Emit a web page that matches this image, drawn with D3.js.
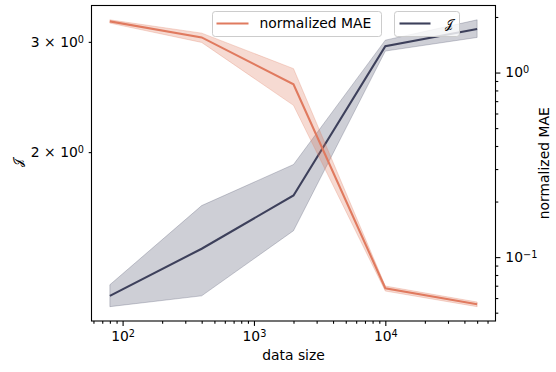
<!DOCTYPE html>
<html>
<head>
<meta charset="utf-8">
<script src="https://cdn.jsdelivr.net/npm/d3@7"></script>
<style>
    body { margin: 0; background: #fff; }
    svg text { font-family: "DejaVu Sans", sans-serif; fill: #000; }
</style>
</head>
<body>
<div id="chart"></div>
<script>
(function(){

    // data (band = lower / upper edge of the shaded area)
    var sizes = [80, 400, 2000, 10000, 50000];

    var jMean = [1.179, 1.402, 1.705, 2.953, 3.145];
    var jLow  = [1.133, 1.179, 1.498, 2.900, 3.049];
    var jHigh = [1.228, 1.643, 1.911, 3.019, 3.253];

    var maeMean = [1.893, 1.550, 0.864, 0.0678, 0.0555];
    var maeLow  = [1.853, 1.456, 0.664, 0.0655, 0.0539];
    var maeHigh = [1.930, 1.635, 1.050, 0.0697, 0.0571];

    // ticks
    var xMajorTicks = [100, 1000, 10000];
    var xMinorTicks = [60, 70, 80, 90, 200, 300, 400, 500, 600, 700, 800, 900,
                       2000, 3000, 4000, 5000, 6000, 7000, 8000, 9000,
                       20000, 30000, 40000, 50000, 60000];
    var jTicks = [2, 3];
    var maeMajorTicks = [0.1, 1];
    var maeMinorTicks = [0.05, 0.06, 0.07, 0.08, 0.09, 0.2, 0.3, 0.4, 0.5, 0.6, 0.7, 0.8, 0.9, 2];

    var seriesNames = ["normalized MAE", "\uD835\uDCA5"];
    var xTitle = "data size";

    var orange = "#e07a5f", navy = "#3d405b";
    var fs = 13.9, fsJ = 11.5;

    var width = 556, height = 372;
    var x0 = 91.5, x1 = 495.5, y0 = 5.5, y1 = 321;

    // matplotlib style 5% margin, in log space
    function logPad(lo, hi) {
        var a = Math.log10(lo), b = Math.log10(hi), p = (b - a) * 0.05;
        return [Math.pow(10, a - p), Math.pow(10, b + p)];
    }

    var x = d3.scaleLog().domain(logPad(d3.min(sizes), d3.max(sizes))).range([x0, x1]);
    var yJ = d3.scaleLog().domain(logPad(d3.min(jLow), d3.max(jHigh))).range([y1, y0]);
    var yM = d3.scaleLog().domain(logPad(d3.min(maeLow), d3.max(maeHigh))).range([y1, y0]);

    var svg = d3.select("#chart").append("svg")
        .attr("width", width)
        .attr("height", height);

    // split 10^n into base / exponent text
    function powParts(v) {
        var e = Math.floor(Math.log10(v) + 1e-9);
        var m = Math.round(v / Math.pow(10, e));
        return { base: (m == 1 ? "" : m + " \u00D7 ") + "10", exp: e < 0 ? "\u2212" + (-e) : "" + e };
    }

    function supLabels(sel) {
        sel.selectAll(".tick text").each(function(d) {
            var p = powParts(d);
            var t = d3.select(this).text("");
            t.append("tspan").text(p.base);
            t.append("tspan").attr("dy", "-0.42em").attr("font-size", "0.7em").text(p.exp);
        });
    }

    function styleAxis(g) {
        g.attr("font-family", null).attr("font-size", fs);
        g.select(".domain").remove();
        g.selectAll(".tick line").attr("stroke", "#000").attr("stroke-width", 1.1);
    }

    // ---- bands + lines ----
    function bandArea(scale, lo, hi) {
        return d3.area()
            .x(function(d, i) { return x(sizes[i]); })
            .y0(function(d, i) { return scale(lo[i]); })
            .y1(function(d, i) { return scale(hi[i]); });
    }
    function meanLine(scale, vals) {
        return d3.line()
            .x(function(d, i) { return x(sizes[i]); })
            .y(function(d, i) { return scale(vals[i]); });
    }

    // J on the left axis (drawn first, under the twin axis)
    svg.append("path").datum(sizes)
        .attr("d", bandArea(yJ, jLow, jHigh))
        .attr("fill", navy).attr("fill-opacity", 0.25)
        .attr("stroke", navy).attr("stroke-opacity", 0.25).attr("stroke-width", 1);
    svg.append("path").datum(sizes)
        .attr("d", meanLine(yJ, jMean))
        .attr("fill", "none").attr("stroke", navy).attr("stroke-width", 2.1);

    // legend for J (left axes)
    var leg2 = svg.append("g").attr("transform", "translate(394.5,11.5)");
    leg2.append("rect").attr("width", 65).attr("height", 25).attr("rx", 2.8)
        .attr("fill", "#fff").attr("fill-opacity", 0.8)
        .attr("stroke", "#cccccc").attr("stroke-width", 1);
    leg2.append("line").attr("x1", 5).attr("x2", 36).attr("y1", 12).attr("y2", 12)
        .attr("stroke", navy).attr("stroke-width", 2.1);
    leg2.append("text").attr("x", 50).attr("y", 12).attr("dy", "0.35em")
        .attr("font-size", fsJ).text(seriesNames[1]);

    // normalized MAE on the right (twin) axis
    svg.append("path").datum(sizes)
        .attr("d", bandArea(yM, maeLow, maeHigh))
        .attr("fill", orange).attr("fill-opacity", 0.28)
        .attr("stroke", orange).attr("stroke-opacity", 0.28).attr("stroke-width", 1);
    svg.append("path").datum(sizes)
        .attr("d", meanLine(yM, maeMean))
        .attr("fill", "none").attr("stroke", orange).attr("stroke-width", 2.1);

    // legend for MAE
    var leg1 = svg.append("g").attr("transform", "translate(212.5,11.5)");
    leg1.append("rect").attr("width", 169).attr("height", 25).attr("rx", 2.8)
        .attr("fill", "#fff").attr("fill-opacity", 0.8)
        .attr("stroke", "#cccccc").attr("stroke-width", 1);
    leg1.append("line").attr("x1", 4).attr("x2", 36).attr("y1", 12).attr("y2", 12)
        .attr("stroke", orange).attr("stroke-width", 2.1);
    leg1.append("text").attr("x", 47).attr("y", 12).attr("dy", "0.35em")
        .attr("font-size", fs).text(seriesNames[0]);

    // ---- axes ----
    // x axis
    svg.append("g").attr("transform", "translate(0," + y1 + ")")
        .call(d3.axisBottom(x).tickValues(xMinorTicks).tickSize(2.8).tickFormat(""))
        .call(styleAxis);
    svg.append("g").attr("transform", "translate(0," + y1 + ")")
        .call(d3.axisBottom(x).tickValues(xMajorTicks).tickSize(4.9).tickPadding(4.9))
        .call(styleAxis)
        .call(supLabels);

    // left axis (J): only labelled minor ticks
    svg.append("g").attr("transform", "translate(" + x0 + ",0)")
        .call(d3.axisLeft(yJ).tickValues(jTicks).tickSize(2.8).tickPadding(4.7))
        .call(styleAxis)
        .call(supLabels);

    // right axis (MAE)
    svg.append("g").attr("transform", "translate(" + x1 + ",0)")
        .call(d3.axisRight(yM).tickValues(maeMinorTicks).tickSize(2.8).tickFormat(""))
        .call(styleAxis);
    svg.append("g").attr("transform", "translate(" + x1 + ",0)")
        .call(d3.axisRight(yM).tickValues(maeMajorTicks).tickSize(4.9).tickPadding(4.9))
        .call(styleAxis)
        .call(supLabels);

    // frame
    svg.append("rect")
        .attr("x", x0).attr("y", y0)
        .attr("width", x1 - x0).attr("height", y1 - y0)
        .attr("fill", "none").attr("stroke", "#000").attr("stroke-width", 1.1);

    // axis titles
    svg.append("text")
        .attr("x", (x0 + x1) / 2).attr("y", 360)
        .attr("text-anchor", "middle").attr("font-size", fs)
        .text(xTitle);

    svg.append("text")
        .attr("transform", "translate(22," + ((y0 + y1) / 2) + ") rotate(-90)")
        .attr("text-anchor", "middle").attr("font-size", fsJ)
        .text(seriesNames[1]);

    svg.append("text")
        .attr("transform", "translate(549," + ((y0 + y1) / 2) + ") rotate(-90)")
        .attr("text-anchor", "middle").attr("font-size", fs)
        .text(seriesNames[0]);

})();
</script>
</body>
</html>
